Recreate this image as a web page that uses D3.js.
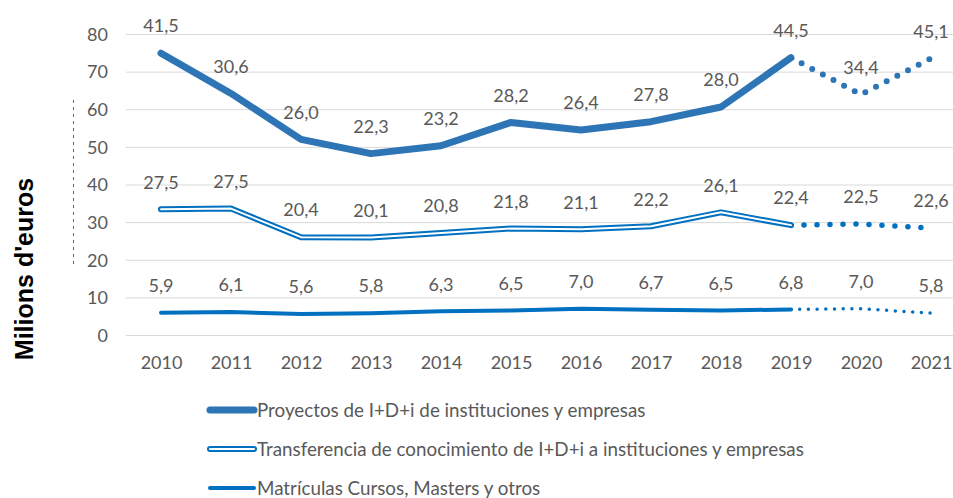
<!DOCTYPE html>
<html><head><meta charset="utf-8">
<script src="https://cdn.jsdelivr.net/npm/d3@7"></script>
<style>
html,body{margin:0;padding:0;background:#fff;}
svg{display:block;}
</style></head>
<body>
<script>
const years = ["2010","2011","2012","2013","2014","2015","2016","2017","2018","2019","2020","2021"];
const proyectos = [41.5,30.6,26.0,22.3,23.2,28.2,26.4,27.8,28.0,44.5,34.4,45.1];
const transferencia = [27.5,27.5,20.4,20.1,20.8,21.8,21.1,22.2,26.1,22.4,22.5,22.6];
const matriculas = [5.9,6.1,5.6,5.8,6.3,6.5,7.0,6.7,6.5,6.8,7.0,5.8];
const yTicks = [0,10,20,30,40,50,60,70,80];
const seriesNames = ["Proyectos de I+D+i de instituciones y empresas","Transferencia de conocimiento de I+D+i a instituciones y empresas","Matrículas Cursos, Masters y otros"];
const lastSolidYear = "2019";

const W = 953, H = 498;
const svg = d3.select("body").append("svg").attr("width", W).attr("height", H);

const x = d3.scalePoint().domain(years).range([126, 966]).padding(0.5);
const y = d3.scaleLinear().domain([0, 80]).range([335, 34]);

// cumulative (stacked) values
const stackData = years.map((yr, i) => ({year: yr, m: matriculas[i], t: transferencia[i], p: proyectos[i]}));
const stack = d3.stack().keys(["m","t","p"])(stackData);
const cum = {m: stack[0].map(d => d[1]), t: stack[1].map(d => d[1]), p: stack[2].map(d => d[1])};

// gridlines
svg.append("g").selectAll("line").data(yTicks).join("line")
  .attr("x1", 126).attr("x2", W)
  .attr("y1", d => y(d) + 0.5).attr("y2", d => y(d) + 0.5)
  .attr("stroke", "#d9d9d9").attr("stroke-width", 1);

// y axis labels
const yAxis = d3.axisLeft(y).tickValues(yTicks).tickSize(0).tickPadding(0).tickFormat(d3.format("d"));
const gy = svg.append("g").attr("transform", "translate(108,0)").call(yAxis);
gy.select(".domain").remove();
gy.selectAll("text").attr("font-family", "Lato, sans-serif").attr("font-size", 18).attr("fill", "#595959").attr("dy", "0.35em");

// x axis labels
const xAxis = d3.axisBottom(x).tickSize(0).tickPadding(0);
const gx = svg.append("g").attr("transform", "translate(0,355)").call(xAxis);
gx.select(".domain").remove();
gx.selectAll("text").attr("font-family", "Lato, sans-serif").attr("font-size", 18).attr("fill", "#595959").attr("dy", "0.75em");

// y title
svg.append("text").attr("transform", "translate(33,269) rotate(-90)")
  .attr("text-anchor", "middle").attr("font-family", "'Liberation Sans', Arial, sans-serif")
  .attr("font-weight", "bold").attr("font-size", 25).attr("fill", "#000").text("Milions d'euros");

// decorative dashed vertical line
svg.append("line").attr("x1", 73.5).attr("x2", 73.5).attr("y1", 100).attr("y2", 266)
  .attr("stroke", "#666").attr("stroke-width", 1).attr("stroke-dasharray", "3,4");

const idxSplit = years.indexOf(lastSolidYear);
const solidIdx = d3.range(0, idxSplit + 1);
const dotIdx = d3.range(idxSplit, years.length);
const line = d3.line().x(i => x(years[i])).curve(d3.curveLinear);

function drawSeries(vals, style) {
  const l = line.y(i => y(vals[i]));
  // dotted part
  svg.append("path").attr("d", l(dotIdx)).attr("fill", "none")
    .attr("stroke", style.color).attr("stroke-width", style.dotW)
    .attr("stroke-linecap", "round").attr("stroke-dasharray", `0 ${style.dotGap}`)
    .attr("stroke-dashoffset", -style.dotGap);
  // solid part
  svg.append("path").attr("d", l(solidIdx)).attr("fill", "none")
    .attr("stroke", style.color).attr("stroke-width", style.w)
    .attr("stroke-linecap", "round").attr("stroke-linejoin", "round");
  if (style.inner) {
    svg.append("path").attr("d", l(solidIdx)).attr("fill", "none")
      .attr("stroke", "#fff").attr("stroke-width", style.inner)
      .attr("stroke-linecap", "round").attr("stroke-linejoin", "round");
  }
}

const styles = {
  p: {color: "#2e75b6", w: 7, dotW: 6, dotGap: 12},
  t: {color: "#0070c0", w: 6, inner: 2, dotW: 5.5, dotGap: 13},
  m: {color: "#0070c0", w: 4, dotW: 3.5, dotGap: 8.7}
};
drawSeries(cum.p, styles.p);
drawSeries(cum.t, styles.t);
drawSeries(cum.m, styles.m);

// data labels
function labels(cumVals, raw) {
  svg.append("g").selectAll("text").data(years).join("text")
    .attr("x", d => x(d)).attr("y", (d, i) => y(cumVals[i]) - 27)
    .attr("dy", "0.35em").attr("text-anchor", "middle")
    .attr("font-family", "Lato, sans-serif").attr("font-size", 18).attr("fill", "#595959")
    .text((d, i) => d3.format(".1f")(raw[i]).replace(".", ","));
}
labels(cum.p, proyectos);
labels(cum.t, transferencia);
labels(cum.m, matriculas);

// legend
const legendKeys = ["p","t","m"];
const lg = svg.append("g");
legendKeys.forEach((k, i) => {
  const yy = 410 + i * 39;
  const s = styles[k];
  lg.append("line").attr("x1", 210).attr("x2", 254).attr("y1", yy).attr("y2", yy)
    .attr("stroke", s.color).attr("stroke-width", s.w).attr("stroke-linecap", "round");
  if (s.inner) lg.append("line").attr("x1", 210).attr("x2", 254).attr("y1", yy).attr("y2", yy)
    .attr("stroke", "#fff").attr("stroke-width", s.inner).attr("stroke-linecap", "round");
  lg.append("text").attr("x", 257).attr("y", yy).attr("dy", "0.35em")
    .attr("font-family", "Lato, sans-serif").attr("font-size", 18.8).attr("fill", "#595959")
    .text(seriesNames[i]);
});
</script>
</body></html>
